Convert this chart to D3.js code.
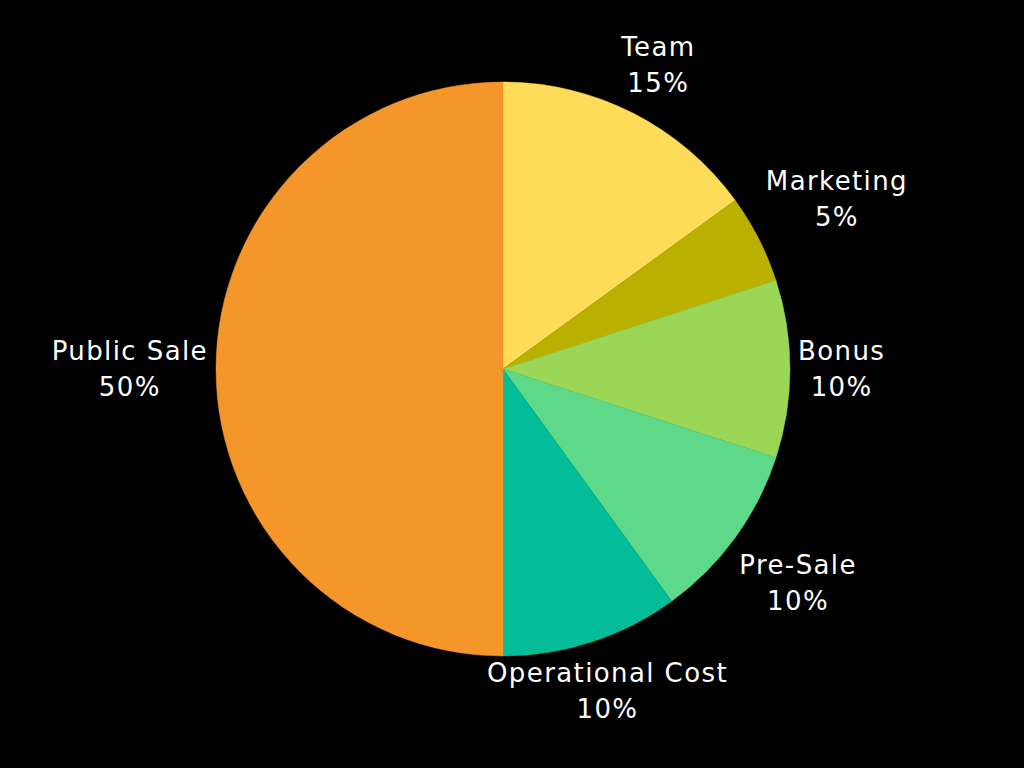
<!DOCTYPE html>
<html lang="en">
<head>
<meta charset="utf-8">
<title>Token allocation pie</title>
<script src="https://d3js.org/d3.v7.min.js"></script>
<style>
  body { margin: 0; background: #000; }
  .lbl { font-family: "DejaVu Sans", sans-serif; font-size: 26px; letter-spacing: 1.4px; fill: #fff; }
</style>
</head>
<body>
<svg id="chart" width="1024" height="768"></svg>
<script>
// slices, clockwise from 12 o'clock
var categories = ["Team", "Marketing", "Bonus", "Pre-Sale", "Operational Cost", "Public Sale"];
var shares = [15, 5, 10, 10, 10, 50];
var colours = ["#ffdc58", "#bab000", "#9bd657", "#5ed98a", "#02bd97", "#f4962a"];

var width = 1024, height = 768;
var cx = 503, cy = 369, radius = 287;
var gap = 8, lineH = 36, padY = 8;

var svg = d3.select('#chart');
svg.append('rect').attr('width', width).attr('height', height).attr('fill', '#000');

var g = svg.append('g').attr('transform', 'translate(' + cx + ',' + cy + ')');

var pie = d3.pie().sort(null).value(function(d) { return d; });
var arc = d3.arc().innerRadius(0).outerRadius(radius);
var arcs = pie(shares);

g.selectAll('path.slice')
  .data(arcs)
  .enter().append('path')
    .attr('class', 'slice')
    .attr('d', arc)
    .attr('fill', function(d, i) { return colours[i]; })
    .attr('stroke', function(d, i) { return colours[i]; })
    .attr('stroke-width', 0.5);

// labels sit just outside the rim, box pushed outward along the mid angle
arcs.forEach(function(d, i) {
  var a = (d.startAngle + d.endAngle) / 2;
  var dx = Math.sin(a), dy = -Math.cos(a);
  var lg = g.append('g');
  var t = lg.append('text').attr('class', 'lbl').attr('text-anchor', 'middle');
  t.append('tspan').attr('x', 0).attr('dy', 0).text(categories[i]);
  t.append('tspan').attr('x', 0).attr('dy', lineH).text(shares[i] + '%');
  var bb = t.node().getBBox();
  var w = bb.width, h = bb.height + 2 * padY;
  var k = Math.min(Math.abs(dx) > 1e-6 ? (w / 2) / Math.abs(dx) : Infinity,
                   Math.abs(dy) > 1e-6 ? (h / 2) / Math.abs(dy) : Infinity);
  var px = (radius + gap) * dx + k * dx;
  var py = (radius + gap) * dy + k * dy;
  // centre the text block on (px, py)
  var ox = px - (bb.x + bb.width / 2);
  var oy = py - (bb.y + bb.height / 2);
  lg.attr('transform', 'translate(' + ox + ',' + oy + ')');
});
</script>
</body>
</html>
